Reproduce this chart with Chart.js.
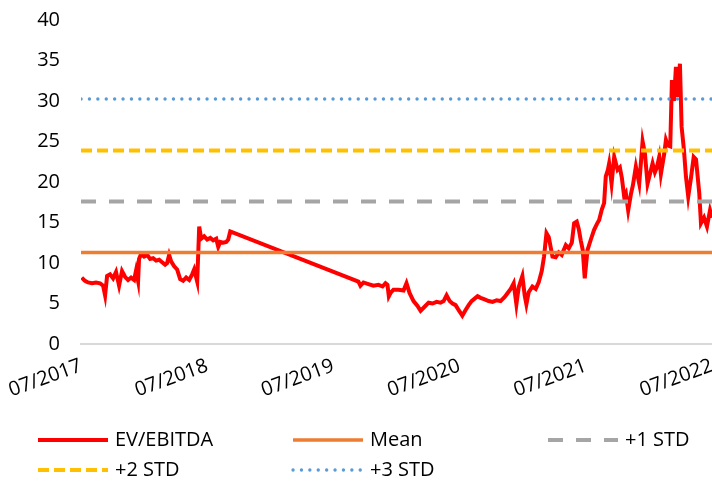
<!DOCTYPE html>
<html>
<head>
<meta charset="utf-8">
<script src="https://cdn.jsdelivr.net/npm/chart.js@4"></script>
<style>
    html, body { margin: 0; padding: 0; background: #fff; }
</style>
</head>
<body>
<canvas id="chart" width="712" height="483"></canvas>
<script>
// x = months since 07/2017
const xTickLabels = ['07/2017', '07/2018', '07/2019', '07/2020', '07/2021', '07/2022'];

const evMonths = [
    0.07, 0.38, 0.67, 1.05, 1.43, 1.81, 2.1, 2.29, 2.48, 2.76, 3.05, 3.33, 3.62, 3.9, 4.19, 4.48,
    4.76, 5.05, 5.24, 5.43, 5.52, 5.71, 6.0, 6.29, 6.57, 6.86, 7.14, 7.43, 7.71, 8.0, 8.19, 8.38,
    8.57, 8.86, 9.14, 9.43, 9.71, 10.0, 10.29, 10.57, 10.76, 11.05, 11.24, 11.43, 11.71, 12.0,
    12.29, 12.57, 12.86, 13.05, 13.24, 13.52, 13.81, 14.0, 14.19,
    26.38, 26.57, 26.86, 27.33, 27.81, 28.29, 28.67, 28.95, 29.14, 29.27, 29.43, 29.71, 30.19,
    30.67, 30.95, 31.24, 31.62, 32.0, 32.29, 32.67, 33.05, 33.43, 33.81, 34.19, 34.48, 34.76,
    35.05, 35.33, 35.62, 35.9, 36.26, 36.57, 36.86, 37.14, 37.43, 37.71, 38.0, 38.38, 38.76,
    39.14, 39.52, 39.9, 40.29, 40.57, 40.86, 41.14, 41.4, 41.62, 41.97, 42.19, 42.35, 42.57,
    42.92, 43.24, 43.52, 43.81, 44.03, 44.26, 44.48, 44.83, 45.14, 45.43, 45.71, 46.1, 46.38,
    46.67, 46.89, 47.14, 47.33, 47.52, 47.71, 47.9, 48.16, 48.48, 48.79, 49.05, 49.27, 49.52,
    49.74, 49.9, 50.1, 50.22, 50.45, 50.7, 51.02, 51.24, 51.43, 51.65, 51.81, 52.03, 52.29,
    52.48, 52.76, 53.08, 53.4, 53.62, 53.87, 54.1, 54.35, 54.57, 54.76, 54.98, 55.14, 55.46,
    55.62, 55.81, 56.03, 56.19, 56.38, 56.57, 56.76, 56.95, 57.11, 57.33, 57.52, 57.74, 58.0,
    58.26, 58.48, 58.79, 58.95, 59.24, 59.52, 59.81, 60.0
];
const evValues = [
    8.2, 7.8, 7.6, 7.5, 7.6, 7.5, 7.2, 6.0, 8.4, 8.6, 8.1, 8.9, 7.2, 9.0, 8.3, 7.9,
    8.2, 7.9, 9.1, 7.8, 10.5, 11.1, 10.8, 11.0, 10.5, 10.6, 10.3, 10.4, 10.1, 9.8, 10.0, 11.0,
    10.2, 9.6, 9.2, 8.0, 7.8, 8.2, 7.9, 8.6, 9.2, 7.7, 14.5, 13.0, 13.3, 12.9,
    13.1, 12.8, 13.0, 12.0, 12.6, 12.5, 12.6, 12.9, 13.9,
    7.7, 7.2, 7.6, 7.4, 7.2, 7.3, 7.1, 7.5, 7.3, 5.9, 6.3, 6.7, 6.7,
    6.6, 7.5, 6.3, 5.3, 4.7, 4.1, 4.6, 5.1, 5.0, 5.2, 5.1, 5.3, 6.0,
    5.3, 5.0, 4.8, 4.2, 3.5, 4.2, 4.8, 5.3, 5.6, 5.9, 5.7, 5.5, 5.3,
    5.2, 5.4, 5.3, 5.8, 6.3, 6.8, 7.5, 4.9, 7.0, 8.4, 6.0, 4.9, 6.4,
    7.1, 6.8, 7.6, 9.0, 10.8, 13.7, 13.2, 10.8, 10.7, 11.3, 11.0, 12.2, 11.8,
    12.5, 14.9, 15.1, 14.2, 12.8, 11.6, 8.1, 11.6, 12.9, 14.1, 14.8, 15.3, 16.6,
    17.4, 20.7, 21.5, 22.3, 19.8, 23.1, 21.5, 21.8, 20.5, 18.2, 18.6, 16.5, 18.5,
    19.6, 21.9, 19.8, 25.0, 23.5, 19.8, 21.0, 22.3, 21.2, 21.8, 23.1, 21.0, 23.5,
    25.2, 24.5, 24.4, 32.6, 30.0, 34.2, 30.5, 34.6, 26.8, 24.0, 20.7, 18.2, 20.5,
    23.1, 22.8, 18.6, 14.9, 15.6, 14.5, 16.5, 15.6
];

const bandLabels = ['Mean', '+1 STD', '+2 STD', '+3 STD'];
const bandValues = [11.3, 17.6, 23.9, 30.25];

const xMin = 0;
const xMax = 60;
const fontFamily = '"Open Sans", sans-serif';

function flatLine(value) {
    return [{ x: xMin, y: value }, { x: xMax, y: value }];
}

const bandStyles = [
    { borderColor: '#ED7D31', borderWidth: 3.5 },
    { borderColor: '#A5A5A5', borderWidth: 4, borderDash: [15, 13] },
    { borderColor: '#FFC000', borderWidth: 4, borderDash: [11, 5] },
    { borderColor: '#5B9BD5', borderWidth: 3.3, borderDash: [0.1, 8.3], borderCapStyle: 'round' },
];

const datasets = [{
    label: 'EV/EBITDA',
    data: evMonths.map((m, i) => ({ x: m, y: evValues[i] })),
    borderColor: '#FF0000',
    borderWidth: 4,
    pointRadius: 0,
    order: 1,
}];
bandLabels.forEach((label, i) => {
    datasets.push(Object.assign({
        label: label,
        data: flatLine(bandValues[i]),
        pointRadius: 0,
        order: 0,
    }, bandStyles[i]));
});

// legend in a 3 column grid under the chart
const bottomLegend = {
    id: 'bottomLegend',
    afterDraw(chart) {
        const ctx = chart.ctx;
        chart.data.datasets.forEach((ds, i) => {
            const x = 38 + (i % 3) * 255;
            const y = 440 + Math.floor(i / 3) * 30;
            ctx.save();
            ctx.strokeStyle = ds.borderColor;
            ctx.lineWidth = ds.borderWidth;
            ctx.setLineDash(ds.borderDash || []);
            ctx.lineCap = ds.borderCapStyle || 'butt';
            ctx.beginPath();
            ctx.moveTo(x, y);
            ctx.lineTo(x + 70, y);
            ctx.stroke();
            ctx.setLineDash([]);
            ctx.fillStyle = '#000';
            ctx.font = '20px ' + fontFamily;
            ctx.textBaseline = 'middle';
            ctx.fillText(ds.label, x + 77, y);
            ctx.restore();
        });
    }
};

new Chart(document.getElementById('chart'), {
    type: 'line',
    data: { datasets: datasets },
    plugins: [bottomLegend],
    options: {
        responsive: false,
        animation: false,
        layout: { padding: { top: 20, right: 0, left: 0, bottom: 80 } },
        plugins: {
            legend: { display: false },
            tooltip: { enabled: false },
        },
        scales: {
            x: {
                type: 'linear',
                min: xMin,
                max: xMax,
                grid: { display: false, drawTicks: false },
                border: { display: true, color: '#D9D9D9', width: 2 },
                ticks: {
                    stepSize: 12,
                    autoSkip: false,
                    maxRotation: 20,
                    minRotation: 20,
                    padding: 10,
                    color: '#000',
                    font: { family: fontFamily, size: 20 },
                    callback: (v) => xTickLabels[v / 12],
                },
                afterFit(scale) {
                    scale.height = 59;
                    scale.paddingLeft = 0;
                    scale.paddingRight = 0;
                },
            },
            y: {
                min: 0,
                max: 40,
                grid: { display: false, drawTicks: false },
                border: { display: false },
                ticks: {
                    stepSize: 5,
                    padding: 21,
                    color: '#000',
                    font: { family: fontFamily, size: 20 },
                },
                afterFit(scale) {
                    scale.width = 81;
                    scale.paddingTop = 0;
                    scale.paddingBottom = 0;
                },
            },
        },
    },
});
</script>
</body>
</html>
